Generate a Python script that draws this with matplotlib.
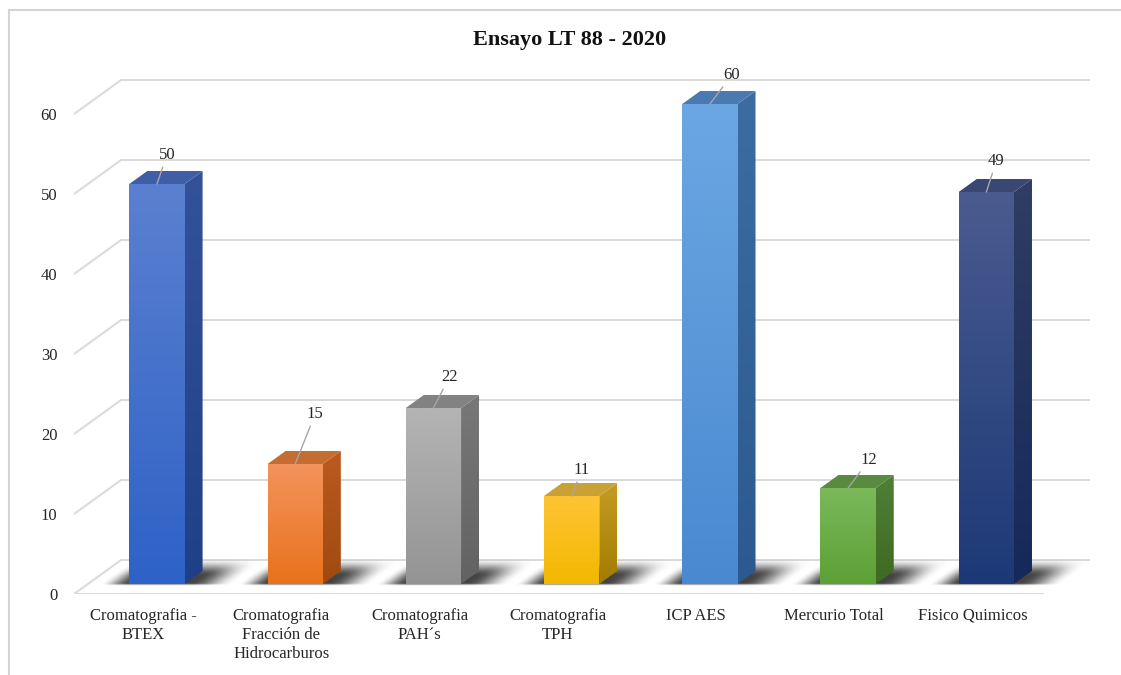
import numpy as np
import matplotlib.pyplot as plt
from matplotlib.patches import Polygon
from matplotlib.lines import Line2D
from matplotlib.colors import to_rgb

categories = [
    "Cromatografia -\nBTEX",
    "Cromatografia\nFracción de\nHidrocarburos",
    "Cromatografia\nPAH´s",
    "Cromatografia\nTPH",
    "ICP AES",
    "Mercurio Total",
    "Fisico Quimicos",
]
values = [50, 15, 22, 11, 60, 12, 49]
y_ticks = [0, 10, 20, 30, 40, 50, 60]
title = "Ensayo LT 88 - 2020"

# (front top, front bottom, side top, side bottom, top face)
bar_colors = [
    ("#5b80d0", "#2e62c6", "#34529a", "#1f3f86", "#3f5ea6"),
    ("#f4935c", "#e8721c", "#bb5a1e", "#a04a10", "#c46c32"),
    ("#b4b4b4", "#949494", "#787878", "#626262", "#828282"),
    ("#ffc434", "#f2b800", "#c49c22", "#a27c00", "#c9a236"),
    ("#6ba7e2", "#4a89d1", "#3d6ca2", "#2c5a90", "#4b79b2"),
    ("#7bb95b", "#5da034", "#4f8038", "#3e6a20", "#5a8a40"),
    ("#4a5b8f", "#1c3977", "#303d64", "#15295a", "#3a4772"),
]
label_offsets = [(10, 29), (20, 50), (16, 31), (10, 26), (22, 29), (21, 28), (10, 31)]

SERIF = "Liberation Serif"
GRID = "#d9d9d9"

# oblique projection: full floor depth expressed in data units
WALL_DX, WALL_DY = 0.3406, 4.25
D0, D1 = 0.294, 0.676          # bar front / back depth fractions
BAR_W = 0.40
X_MIN, X_MAX = -0.5, 6.85
Y_MAX = 70

fig = plt.figure(figsize=(11.21, 6.75), dpi=100)
ax = fig.add_axes([74 / 1121, 81 / 675, 1016 / 1121, 560 / 675])
ax.set_facecolor("white")


def shift(x, y, d):
    return x + d * WALL_DX, y + d * WALL_DY


def shaded_face(verts, c_top, c_bot, z):
    poly = Polygon(verts, closed=True, facecolor="none", edgecolor="none", zorder=z)
    ax.add_patch(poly)
    xs = [v[0] for v in verts]
    ys = [v[1] for v in verts]
    t = np.linspace(0, 1, 128)[:, None]
    c0, c1 = np.array(to_rgb(c_top)), np.array(to_rgb(c_bot))
    img = (c0[None, :] * (1 - t) + c1[None, :] * t)[:, None, :]
    im = ax.imshow(img, extent=(min(xs), max(xs), min(ys), max(ys)), origin="upper",
                   aspect="auto", interpolation="bilinear", zorder=z)
    im.set_clip_path(poly)


def smooth(t):
    t = np.clip(t, 0, 1)
    return t * t * (3 - 2 * t)


def floor_shadow(x0, x1, z):
    # soft shadow on the floor, thrown back and to the right of the bar
    y0 = D0 * WALL_DY
    bar_dx = (D1 - D0) * WALL_DX
    slope = WALL_DX / WALL_DY
    left, right = x0 - 0.3, x1 + bar_dx + 0.5
    bottom, top = y0 - 0.6, y0 + 3.8
    xs = np.linspace(left, right, 400)
    ys = np.linspace(bottom, top, 140)
    X, Y = np.meshgrid(xs, ys)
    U = X - (Y - y0) * slope
    horiz = smooth((U - (x0 - 0.22)) / 0.22) * smooth(((x1 + bar_dx + 0.22) - U) / 0.32)
    vert = smooth((Y - (y0 - 0.2)) / 0.3) * smooth(((y0 + 3.2) - Y) / 2.2)
    alpha = 0.92 * horiz * vert
    rgba = np.zeros(alpha.shape + (4,))
    rgba[..., :3] = 0.2
    rgba[..., 3] = alpha
    ax.imshow(rgba, extent=(left, right, bottom, top), origin="lower",
              aspect="auto", interpolation="bilinear", zorder=z)


# gridlines: front diagonal on the side wall, then along the back wall
for v in y_ticks:
    bx, by = shift(X_MIN, v, 1)
    ax.plot([X_MIN, bx, X_MAX], [v, by, by], color=GRID, lw=1.4, zorder=1,
            solid_capstyle="butt")
# front edge of the floor
ax.plot([X_MIN, X_MAX - WALL_DX], [0, 0], color=GRID, lw=1.4, zorder=1)

bar_dx = (D1 - D0) * WALL_DX
bar_dy = (D1 - D0) * WALL_DY
for i, (v, cols, off) in enumerate(zip(values, bar_colors, label_offsets)):
    fx0, fy0 = shift(i - BAR_W / 2, 0, D0)
    fx1 = fx0 + BAR_W
    floor_shadow(fx0, fx1, 2)
    front = [(fx0, fy0), (fx1, fy0), (fx1, fy0 + v), (fx0, fy0 + v)]
    side = [(fx1, fy0), (fx1 + bar_dx, fy0 + bar_dy), (fx1 + bar_dx, fy0 + v + bar_dy),
            (fx1, fy0 + v)]
    top = [(fx0, fy0 + v), (fx1, fy0 + v), (fx1 + bar_dx, fy0 + v + bar_dy),
           (fx0 + bar_dx, fy0 + v + bar_dy)]
    shaded_face(front, cols[0], cols[1], 4)
    shaded_face(side, cols[2], cols[3], 4)
    ax.add_patch(Polygon(top, closed=True, facecolor=cols[4], edgecolor="none", zorder=4))
    ax.annotate(f"{v}", xy=((fx0 + fx1) / 2, fy0 + v), xytext=off,
                textcoords="offset pixels", ha="center", va="center",
                fontsize=12, family=SERIF, color="#262626", zorder=6,
                arrowprops=dict(arrowstyle="-", color="#a6a6a6", lw=1.0,
                                shrinkA=1, shrinkB=0))

ax.set_xlim(X_MIN, X_MAX)
ax.set_ylim(0, Y_MAX)
ax.set_yticks(y_ticks)
ax.set_yticklabels([str(t) for t in y_ticks], family=SERIF, fontsize=12, color="#262626")
ax.set_xticks(range(len(categories)))
ax.set_xticklabels(categories, family=SERIF, fontsize=12, color="#262626",
                   linespacing=1.25)
ax.tick_params(axis="y", length=0, pad=12)
ax.tick_params(axis="x", length=0, pad=10)
for s in ax.spines.values():
    s.set_visible(False)

fig.text(570 / 1121, 1 - 40 / 675, title, ha="center", va="center",
         fontsize=16, fontweight="bold", family=SERIF, color="#111111")

# chart area border (top and left edges)
fig.add_artist(Line2D([9 / 1121, 1], [1 - 10 / 675, 1 - 10 / 675], color="#d4d4d4", lw=1.5))
fig.add_artist(Line2D([9 / 1121, 9 / 1121], [0, 1 - 10 / 675], color="#d4d4d4", lw=1.5))

fig.savefig("out.png", dpi=100, facecolor="white")
